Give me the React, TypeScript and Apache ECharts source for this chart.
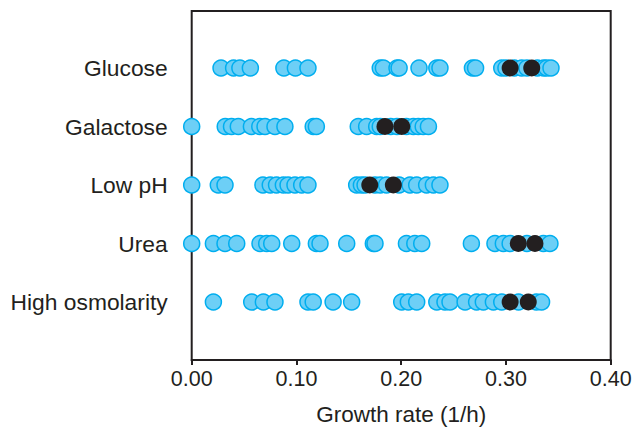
import React, { useEffect, useRef } from "react";
import * as echarts from "echarts";

const categories = ["High osmolarity", "Urea", "Low pH", "Galactose", "Glucose"];
const xTicks = [0, 0.1, 0.2, 0.3, 0.4];

const glucose = [0.028, 0.040, 0.046, 0.056, 0.088, 0.099, 0.111, 0.180, 0.183, 0.196, 0.198, 0.217, 0.234, 0.237, 0.268, 0.271, 0.296, 0.300, 0.308, 0.315, 0.320, 0.330, 0.336, 0.339, 0.343];
const galactose = [0.0, 0.032, 0.038, 0.0445, 0.057, 0.065, 0.070, 0.0795, 0.089, 0.116, 0.119, 0.159, 0.167, 0.1766, 0.180, 0.190, 0.196, 0.205, 0.2116, 0.2163, 0.221, 0.226];
const lowPH = [0.0, 0.0254, 0.0318, 0.068, 0.075, 0.081, 0.0875, 0.092, 0.0986, 0.105, 0.111, 0.1575, 0.162, 0.1655, 0.175, 0.18, 0.186, 0.198, 0.2084, 0.2148, 0.2243, 0.2307, 0.237];
const urea = [0.0, 0.0207, 0.0318, 0.043, 0.0652, 0.0716, 0.0764, 0.0955, 0.119, 0.1225, 0.148, 0.1734, 0.175, 0.205, 0.213, 0.2196, 0.267, 0.2895, 0.2975, 0.304, 0.320, 0.3357, 0.342];
const highOsmolarity = [0.0207, 0.0573, 0.0684, 0.0795, 0.111, 0.116, 0.135, 0.1527, 0.2005, 0.2068, 0.2148, 0.234, 0.2418, 0.2466, 0.261, 0.272, 0.2784, 0.288, 0.296, 0.312, 0.329, 0.334];

const glucoseMean = [0.304, 0.3246];
const galactoseMean = [0.1845, 0.2005];
const lowPHMean = [0.170, 0.1925];
const ureaMean = [0.3118, 0.3277];
const highOsmolarityMean = [0.304, 0.3213];

const lightRows = [highOsmolarity, urea, lowPH, galactose, glucose];
const darkRows = [highOsmolarityMean, ureaMean, lowPHMean, galactoseMean, glucoseMean];

const FONT = "'Liberation Sans', Arial, Helvetica, sans-serif";
const INK = "#231f20";

export default function App() {
  const ref = useRef<HTMLDivElement>(null);
  useEffect(() => {
    if (!ref.current) return;
    const chart = echarts.init(ref.current, undefined, { renderer: "svg" });
    const lightData: number[][] = [];
    lightRows.forEach((row, i) => row.forEach((v) => lightData.push([v, i + 1])));
    const darkData: number[][] = [];
    darkRows.forEach((row, i) => row.forEach((v) => darkData.push([v, i + 1])));
    chart.setOption({
      animation: false,
      backgroundColor: "#ffffff",
      grid: [
        { left: 191.7, right: 25.3, top: 11, bottom: 68, show: true, borderColor: INK, borderWidth: 2, backgroundColor: "transparent" },
        { left: 191.7, right: 25.3, top: 9.5, bottom: 70.5 },
      ],
      xAxis: [
        {
          gridIndex: 0,
          type: "value",
          min: 0,
          max: 0.4,
          interval: 0.1,
          axisLine: { show: true, lineStyle: { color: INK, width: 2 } },
          axisTick: { show: true, inside: false, length: 5, lineStyle: { color: INK, width: 2 } },
          splitLine: { show: false },
          axisLabel: {
            margin: 8,
            color: INK,
            fontSize: 21.5,
            fontFamily: FONT,
            formatter: (v: number) => {
              const t = xTicks.find((x) => Math.abs(x - v) < 1e-9);
              return t === undefined ? "" : t.toFixed(2);
            },
          },
          name: "Growth rate (1/h)",
          nameLocation: "middle",
          nameGap: 43,
          nameTextStyle: { color: INK, fontSize: 22.5, fontFamily: FONT },
        },
        { gridIndex: 1, type: "value", min: 0, max: 0.4, show: false },
      ],
      yAxis: [
        { gridIndex: 0, type: "value", min: 0, max: 1, show: false },
        {
          gridIndex: 1,
          type: "value",
          min: 0,
          max: 6,
          interval: 1,
          axisLine: { show: false },
          axisTick: { show: false },
          splitLine: { show: false },
          axisLabel: {
            margin: 24,
            color: INK,
            fontSize: 22.8,
            fontFamily: FONT,
            formatter: (v: number) => {
              const i = Math.round(v) - 1;
              return i >= 0 && i < categories.length ? categories[i] : "";
            },
          },
        },
      ],
      series: [
        {
          type: "scatter",
          xAxisIndex: 1,
          yAxisIndex: 1,
          symbol: "circle",
          symbolSize: 16,
          data: lightData,
          itemStyle: { color: "#6dcff6", borderColor: "#00aeef", borderWidth: 1.5, opacity: 1 },
          emphasis: { disabled: true },
        },
        {
          type: "scatter",
          xAxisIndex: 1,
          yAxisIndex: 1,
          symbol: "circle",
          symbolSize: 17,
          data: darkData,
          itemStyle: { color: INK, opacity: 1 },
          emphasis: { disabled: true },
        },
      ],
    });
    return () => chart.dispose();
  }, []);
  return <div ref={ref} style={{ width: 636, height: 431, position: "absolute", left: 0, top: 0 }} />;
}
